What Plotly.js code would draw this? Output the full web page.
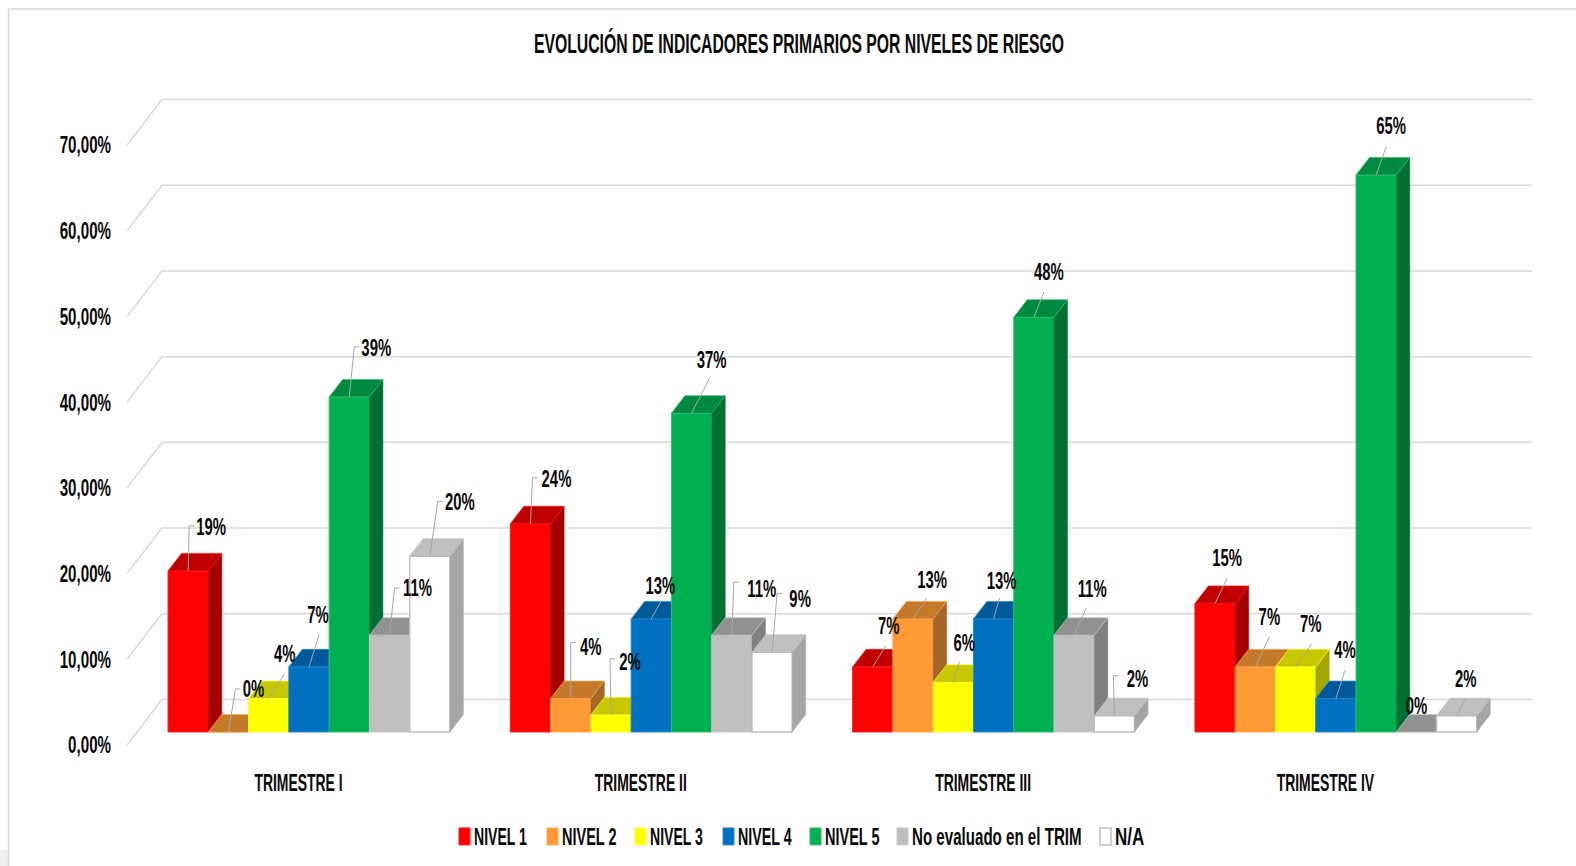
<!DOCTYPE html>
<html><head><meta charset="utf-8">
<script src="https://cdn.plot.ly/plotly-3.0.1.min.js"></script>
<style>html,body{margin:0;padding:0;background:#fff}#c{width:1576px;height:866px}</style>
</head><body><div id="c"></div>
<script>
// ---- data ----
const categories = ["TRIMESTRE I","TRIMESTRE II","TRIMESTRE III","TRIMESTRE IV"];
const seriesNames = ["NIVEL 1","NIVEL 2","NIVEL 3","NIVEL 4","NIVEL 5","No evaluado en el TRIM","N/A"];
const nivel1 = [18.8,24.3,7.6,15.0];
const nivel2 = [0,3.9,13.2,7.6];
const nivel3 = [3.9,2.0,5.8,7.6];
const nivel4 = [7.6,13.2,13.2,3.9];
const nivel5 = [39.1,37.2,48.4,65.0];
const noEval = [11.3,11.3,11.3,0];
const na     = [20.5,9.3,1.9,1.9];
const labels1 = ["19%","24%","7%","15%"];
const labels2 = ["0%","4%","13%","7%"];
const labels3 = ["4%","2%","6%","7%"];
const labels4 = ["7%","13%","13%","4%"];
const labels5 = ["39%","37%","48%","65%"];
const labels6 = ["11%","11%","11%","0%"];
const labels7 = ["20%","9%","2%","2%"];
const yTicks = [0,10,20,30,40,50,60,70];
const yTickText = ["0,00%","10,00%","20,00%","30,00%","40,00%","50,00%","60,00%","70,00%"];

// ---- styles and layout constants ----
const allValues = [nivel1,nivel2,nivel3,nivel4,nivel5,noEval,na];
const allLabels = [labels1,labels2,labels3,labels4,labels5,labels6,labels7];
const front = ["#ff0000","#ff9933","#ffff00","#0070c0","#00b050","#bfbfbf","#ffffff"];
const edge  = ["#ff1a1a","#ffa64d","#ffff33","#2a86cc","#33c070","#c8c8c8","#bfbfbf"];
const topC  = ["#c00000","#c47a2a","#c8c800","#005a9a","#008a3f","#919191","#bfbfbf"];
const sideC = ["#a50000","#a5662a","#a5a500","#004f88","#006f33","#808080","#a5a5a5"];
const W=1576,H=866, pL=120,pR=1540,pT=90,pB=750;
const group0Px=309, groupPx=342.3, y0Bar=732, yPerBar=8.57, y0Tick=745, yPerTick=8.571;
const barW=1/8.5, depthX=13.5/groupPx, depthY=17.5/yPerBar;
const wallDx=35/groupPx, wallDy=45.5/yPerTick;
const xr=[(pL-group0Px)/groupPx,(pR-group0Px)/groupPx];
const yrBar=[(y0Bar-pB)/yPerBar,(y0Bar-pT)/yPerBar];
const yrTick=[(y0Tick-pB)/yPerTick,(y0Tick-pT)/yPerTick];
// label placement, in pixels from the top-centre of each bar: text dx,dy, leader end dx,dy, elbow stub
const place = [
 [[23,-42,1,-45,1],[26,-43,2,-46,1],[16,-39,13,-21,0],[12,-43,12,-25,0]],
 [[25,-41,7,-43,1],[20,-50,0,-56,1],[19,-37,14,-21,0],[14,-48,14,-30,0]],
 [[16,-43,16,-25,0],[19,-51,-1,-56,1],[11,-37,6,-21,0],[15,-41,16,-23,0]],
 [[9,-50,10,-32,0],[9,-31,10,-18,0],[8,-36,6,-21,0],[9,-47,9,-28,0]],
 [[27,-47,5,-50,1],[20,-51,18,-35,0],[15,-43,10,-25,0],[15,-47,10,-28,0]],
 [[28,-45,5,-47,1],[30,-44,2,-53,1],[18,-44,12,-27,0],[0,-24,0,0,0]],
 [[30,-52,8,-55,1],[28,-51,5,-59,1],[23,-35,-1,-40,1],[9,-35,9,-18,0]]
];
const FONT="'Liberation Sans',Arial,sans-serif";
const txt="#0a0a0a", gridC="#d9d9d9";
const px2x=v=>(v-pL)/(pR-pL), px2y=v=>(pB-v)/(pB-pT);

const traces=[];
// back wall and floor lines from the axis ticks
const gx=[],gy=[];
yTicks.forEach(v=>{gx.push(xr[0]+7/groupPx,xr[0]+7/groupPx+wallDx,xr[1]-8/groupPx,null);gy.push(v,v+wallDy,v+wallDy,null);});
traces.push({type:"scatter",mode:"lines",x:gx,y:gy,xaxis:"x",yaxis:"y",showlegend:false,hoverinfo:"skip",line:{color:gridC,width:1.5}});

// one overlaid subplot per series so each bar paints over its left neighbour's side
const axes={};
allValues.forEach((vals,s)=>{
  const ya="y"+(s+2), off=(s-3.5)*barW;
  axes["yaxis"+(s+2)]={overlaying:"y",range:yrBar,visible:false,fixedrange:true};
  traces.push({type:"bar",name:seriesNames[s],x:categories.map((c,g)=>g),y:vals,width:barW,offset:off,
    xaxis:"x",yaxis:ya,marker:{color:front[s],line:{color:edge[s],width:s===6?1.5:1}},hoverinfo:"skip",showlegend:true});
  const sx=[],sy=[],tx=[],ty=[];
  vals.forEach((v,g)=>{
    const l=g+off,r=l+barW;
    sx.push(r,r,r+depthX,r+depthX,r,null); sy.push(0,v,v+depthY,depthY,0,null);
    tx.push(l,r,r+depthX,l+depthX,l,null); ty.push(v,v,v+depthY,v+depthY,v,null);
  });
  traces.push({type:"scatter",mode:"lines",x:sx,y:sy,xaxis:"x",yaxis:ya,fill:"toself",fillcolor:sideC[s],line:{color:s===6?"#b5b5b5":sideC[s],width:.5},showlegend:false,hoverinfo:"skip"});
  traces.push({type:"scatter",mode:"lines",x:tx,y:ty,xaxis:"x",yaxis:ya,fill:"toself",fillcolor:topC[s],line:{color:edge[s],width:.7},showlegend:false,hoverinfo:"skip"});
});
// data labels and leader lines, on top of everything
const lx=[],ly=[],dx=[],dy=[],dt=[];
allValues.forEach((vals,s)=>vals.forEach((v,g)=>{
  const cx=g+(s-3)*barW, p=place[s][g];
  dx.push(cx+p[0]/groupPx); dy.push(v-p[1]/yPerBar); dt.push(allLabels[s][g]);
  if(p[2]||p[3]){
    lx.push(cx,cx+p[2]/groupPx); ly.push(v,v-p[3]/yPerBar);
    if(p[4]){lx.push(cx+(p[2]+5)/groupPx); ly.push(v-p[3]/yPerBar);}
    lx.push(null); ly.push(null);
  }
}));
traces.push({type:"scatter",mode:"lines",x:lx,y:ly,xaxis:"x",yaxis:"y8",line:{color:"#a6a6a6",width:1},showlegend:false,hoverinfo:"skip"});
traces.push({type:"scatter",mode:"text",x:dx,y:dy,text:dt,textposition:"middle center",xaxis:"x",yaxis:"y8",cliponaxis:false,
  textfont:{family:FONT,size:24,color:txt,weight:700},showlegend:false,hoverinfo:"skip"});

const layout=Object.assign({
  width:W,height:H,paper_bgcolor:"#fff",plot_bgcolor:"rgba(0,0,0,0)",
  margin:{l:pL,r:W-pR,t:pT,b:H-pB,pad:0},barmode:"overlay",
  title:{text:"EVOLUCIÓN DE INDICADORES PRIMARIOS POR NIVELES DE RIESGO",x:799/W,xanchor:"center",y:1-44/H,yanchor:"middle",
    font:{family:FONT,size:27,color:txt,weight:700}},
  xaxis:{range:xr,tickmode:"array",tickvals:categories.map((c,g)=>g-10.5/groupPx),ticktext:categories,showgrid:false,zeroline:false,showline:false,ticks:"",
    ticklabelstandoff:16,tickfont:{family:FONT,size:24,color:txt,weight:700},fixedrange:true},
  yaxis:{range:yrTick,tickmode:"array",tickvals:yTicks,ticktext:yTickText,showgrid:false,zeroline:false,showline:false,ticks:"",
    ticklabelstandoff:8,tickfont:{family:FONT,size:24,color:txt,weight:700},fixedrange:true},
  legend:{orientation:"h",x:0.5,xanchor:"center",y:1-815/H,yanchor:"top",yref:"container",font:{family:FONT,size:23,color:txt,weight:700},traceorder:"normal",bgcolor:"rgba(0,0,0,0)"},
  shapes:[
    {type:"rect",xref:"paper",yref:"paper",layer:"below",x0:px2x(0),x1:px2x(8),y0:px2y(H),y1:px2y(850),fillcolor:"#f0f0f0",line:{width:0}},
    {type:"line",xref:"paper",yref:"paper",layer:"below",x0:px2x(8.5),x1:px2x(8.5),y0:px2y(H),y1:px2y(9),line:{color:gridC,width:1.5}},
    {type:"line",xref:"paper",yref:"paper",layer:"below",x0:px2x(8.5),x1:px2x(W),y0:px2y(9),y1:px2y(9),line:{color:gridC,width:1.5}}
  ]
},axes);

function squeeze(sel,k){
  document.querySelectorAll(sel).forEach((t,i)=>{
    const len=t.getComputedTextLength(), f=Array.isArray(k)?k[i]:k;
    if(len>0){t.setAttribute("lengthAdjust","spacingAndGlyphs");t.setAttribute("textLength",(len*f).toFixed(1));}
  });
}
Plotly.newPlot("c",traces,layout,{displayModeBar:false,staticPlot:true}).then(()=>{
  // compact swatch-and-text legend spacing, as in the reference
  const swatchX=[459,547,635,723,810,897,1100], textGap=15;
  const lg=document.querySelector(".legend");
  if(lg){
    const m=/translate\(([-\d.]+)/.exec(lg.getAttribute("transform")||""); const ox=m?parseFloat(m[1]):0;
    lg.querySelectorAll(".traces").forEach((t,i)=>{
      const cur=/translate\(([-\d.]+),\s*([-\d.]+)/.exec(t.getAttribute("transform"));
      t.setAttribute("transform","translate("+(swatchX[i]-ox)+","+(cur?cur[2]:0)+")");
      const tx=t.querySelector(".legendtext"); if(tx) tx.setAttribute("x",textGap);
      t.querySelectorAll(".legendpoints path, .legendundefined, .legendbar path, .legendsymbols path").forEach(p=>{
        p.setAttribute("d","M0,-8.5H11V8.5H0Z");p.setAttribute("transform","translate(0,0)");});
    });
    const clip=document.querySelector(".legend .scrollbox"); if(clip) clip.removeAttribute("clip-path");
  }
  // the reference's typeface is a tall condensed one: narrow the glyphs to its widths
  squeeze(".gtitle",0.583);
  squeeze(".xtick text",0.58);
  squeeze(".ytick text",0.63);
  squeeze(".textpoint text",0.62);
  squeeze(".legendtext",[.61,.63,.61,.62,.63,.657,.74]);
});
</script></body></html>
